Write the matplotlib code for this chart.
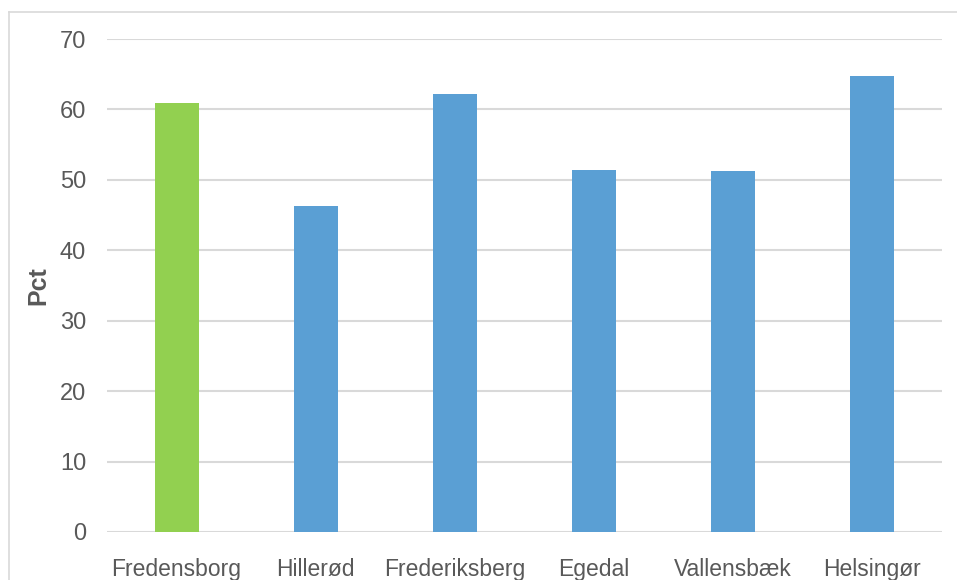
import matplotlib
matplotlib.use("Agg")
import matplotlib.pyplot as plt
from matplotlib.lines import Line2D

categories = ["Fredensborg", "Hillerød", "Frederiksberg", "Egedal", "Vallensbæk", "Helsingør"]
values = [60.9, 46.3, 62.2, 51.4, 51.3, 64.7]
colors = ["#92D050", "#5A9FD4", "#5A9FD4", "#5A9FD4", "#5A9FD4", "#5A9FD4"]
yticks = [0, 10, 20, 30, 40, 50, 60, 70]

plt.rcParams['font.family'] = ['Liberation Sans', 'DejaVu Sans']

W, H = 957, 580
fig = plt.figure(figsize=(W / 100, H / 100), dpi=100)
ax = fig.add_axes([107 / W, (H - 532) / H, (942 - 107) / W, (532 - 39) / H])

x = list(range(len(categories)))
ax.bar(x, values, width=0.316, color=colors, zorder=3)
ax.set_xlim(-0.5, len(categories) - 0.5)
ax.set_ylim(0, 70)
ax.set_yticks(yticks)
ax.set_xticks(x)
ax.set_xticklabels(categories)
ax.grid(axis='y', color='#D9D9D9', linewidth=1.5, zorder=0)
ax.tick_params(axis='both', length=0, colors='#595959')
ax.tick_params(axis='y', pad=15, labelsize=17)
ax.tick_params(axis='x', pad=19, labelsize=16.5)
for s in ax.spines.values():
    s.set_visible(False)
ax.set_ylabel("Pct", fontsize=18, fontweight='bold', color='#595959')
ax.yaxis.set_label_coords((50 - 107) / 835, 0.5)

# outer chart frame (partly cropped)
fig.add_artist(Line2D([9 / W, 9 / W], [0, 1 - 11.5 / H], transform=fig.transFigure,
                      color='#D9D9D9', linewidth=1.2))
fig.add_artist(Line2D([9 / W, 1.0], [1 - 11.5 / H, 1 - 11.5 / H], transform=fig.transFigure,
                      color='#D9D9D9', linewidth=1.2))

fig.savefig("out.png", dpi=100)
